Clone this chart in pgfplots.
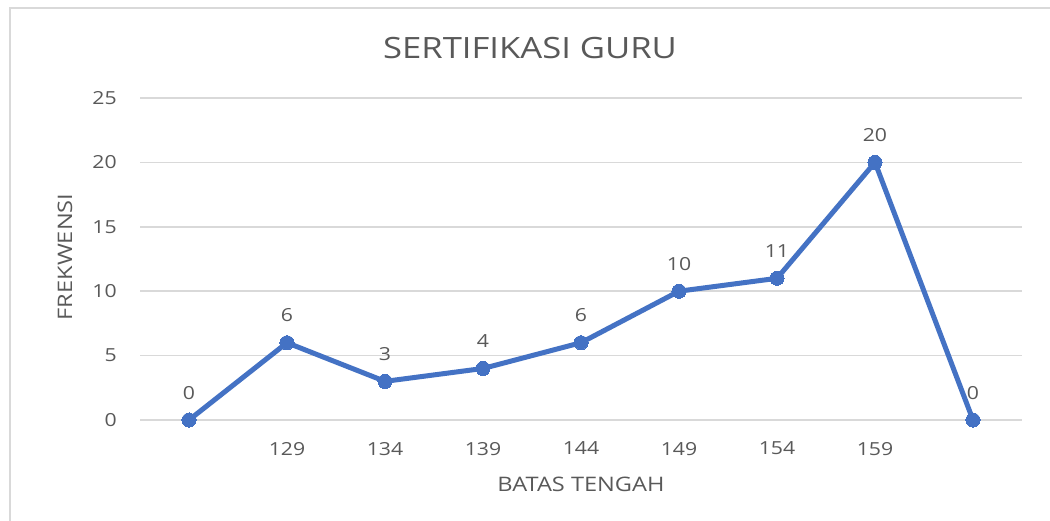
\documentclass[border=0pt]{standalone}
\usepackage{fontspec}
\setmainfont{Open Sans}[FakeStretch=1.18]
\usepackage{pgfplots}
\pgfplotsset{compat=1.18}
\definecolor{txt}{HTML}{595959}
\definecolor{gridc}{HTML}{D9D9D9}
\definecolor{frame}{HTML}{D9D9D9}
\definecolor{lineblue}{HTML}{4472C4}
\begin{document}
\begin{tikzpicture}[x=1pt,y=1pt]
\useasboundingbox (0,0) rectangle (787.5,390.75);
\fill[white] (0,0) rectangle (787.5,390.75);
\draw[frame, line width=1.5pt] (7.5,0) -- (7.5,384.75) -- (787.5,384.75);
\begin{axis}[
  at={(105pt,75.75pt)}, anchor=south west,
  scale only axis, width=661.5pt, height=241.5pt,
  xmin=-0.5, xmax=8.5, ymin=0, ymax=25,
  xtick={0,1,2,3,4,5,6,7,8},
  xticklabels={,129,134,139,144,149,154,159,},
  ytick={0,5,10,15,20,25},
  ymajorgrids, grid style={gridc, line width=1.1pt},
  axis line style={draw=none},
  major tick length=0pt,
  clip=false,
  /pgf/number format/assume math mode=true,
  tick label style={font=\fontsize{13.5}{16}\selectfont, text=txt},
  yticklabel style={anchor=east, inner sep=0pt, xshift=-17.25pt},
  xticklabel style={anchor=north, inner sep=0pt, yshift=-16.3pt},
  nodes near coords,
  every node near coord/.append style={font=\fontsize{13.5}{16}\selectfont, text=txt, anchor=south, inner sep=0pt, yshift=15.5pt},
]
\addplot[lineblue, line width=3.75pt, mark=*, mark size=5.3pt, mark options={fill=lineblue, draw=lineblue, line width=0pt}]
coordinates {(0,0) (1,6) (2,3) (3,4) (4,6) (5,10) (6,11) (7,20) (8,0)};
\end{axis}
\node[text=txt, font=\fontsize{22}{26}\selectfont, inner sep=0pt] at (397.5,354.75) {SERTIFIKASI GURU};
\node[text=txt, font=\fontsize{15}{18}\selectfont, inner sep=0pt] at (435.75,27.75) {BATAS TENGAH};
\node[text=txt, font=\fontsize{15}{18}\selectfont, inner sep=0pt, rotate=90] at (48.75,198) {FREKWENSI};
\end{tikzpicture}
\end{document}
